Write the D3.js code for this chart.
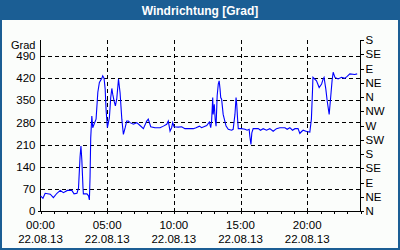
<!DOCTYPE html>
<html lang="de">
<head>
<meta charset="UTF-8">
<title>Windrichtung</title>
<script src="https://d3js.org/d3.v7.min.js"></script>
<style>
    body { margin: 0; background: #fff; overflow: hidden; }
    svg text { font-family: "Liberation Sans", Arial, sans-serif; }
    .grid line { stroke: #000; stroke-dasharray: 4,3; shape-rendering: crispEdges; }
    .axis line, .axis path { stroke: #000; shape-rendering: crispEdges; }
</style>
</head>
<body>
<svg id="chart" width="400" height="250"></svg>
<script>
    // minutes since 00:00 on 22.08.13 and wind direction in degrees
    var minutes = [0, 11, 21, 44, 58, 74, 89, 103, 121, 141, 151, 164, 171, 178, 182, 186, 191, 193, 209, 216,
        220, 223, 226, 231, 235, 241, 250, 258, 265, 276, 280, 286, 291, 295, 301, 310, 316, 321, 325, 331,
        337, 343, 351, 358, 366, 373, 381, 388, 395, 403, 418, 433, 448, 463, 478, 485, 496, 515, 538, 553,
        568, 575, 583, 590, 595, 601, 620, 635, 650, 688, 700, 715, 725, 748, 760, 766, 770, 775, 777, 782,
        786, 790, 795, 800, 804, 808, 811, 815, 822, 835, 845, 860, 867, 875, 880, 883, 887, 890, 905, 920,
        930, 939, 942, 947, 951, 957, 980, 990, 1002, 1017, 1032, 1047, 1062, 1077, 1100, 1110, 1122, 1134, 1145, 1159,
        1167, 1175, 1182, 1197, 1212, 1219, 1224, 1226, 1242, 1254, 1265, 1272, 1276, 1284, 1290, 1299, 1305, 1312, 1317, 1325,
        1339, 1355, 1369, 1380, 1392, 1414, 1425];
    var degrees = [48, 40, 56, 53, 42, 56, 65, 58, 65, 65, 54, 56, 72, 171, 205, 162, 77, 54, 54, 48,
        35, 109, 231, 300, 263, 274, 290, 375, 406, 419, 427, 419, 385, 321, 263, 295, 358, 387, 369, 348,
        332, 353, 417, 374, 290, 242, 263, 284, 284, 279, 274, 279, 270, 260, 284, 290, 266, 263, 263, 268,
        274, 284, 252, 263, 279, 266, 265, 266, 260, 260, 263, 268, 263, 270, 281, 263, 284, 358, 305, 337,
        290, 268, 364, 401, 411, 385, 358, 353, 305, 268, 258, 255, 258, 305, 358, 337, 290, 260, 260, 258,
        255, 258, 236, 210, 247, 260, 260, 255, 260, 255, 260, 252, 260, 263, 263, 258, 263, 255, 260, 260,
        245, 251, 255, 251, 249, 290, 380, 422, 411, 390, 401, 417, 422, 385, 348, 305, 353, 411, 438, 422,
        417, 422, 419, 425, 433, 431, 433];

    var leftTicks = [0, 70, 140, 210, 280, 350, 420, 490];
    var compassTicks = [0, 45, 90, 135, 180, 225, 270, 315, 360, 405, 450, 495, 540];
    var compassNames = ["N", "NE", "E", "SE", "S", "SW", "W", "NW", "N", "NE", "E", "SE", "S"];
    var hourLabels = [0, 5, 10, 15, 20];
    var dateLabel = "22.08.13";

    var svg = d3.select("#chart");
    var W = 400, H = 250;
    var plot = { left: 40.5, right: 360.5, top: 40, bottom: 211 };

    // frame + title bar
    svg.append("rect").attr("width", W).attr("height", H).attr("fill", "#1b5e94");
    svg.append("rect").attr("x", 2).attr("y", 20).attr("width", W - 4).attr("height", H - 22)
        .attr("fill", "#fbfdfb");
    svg.append("text").attr("x", W / 2).attr("y", 14.5).attr("text-anchor", "middle")
        .attr("fill", "#fff").style("font-weight", "bold").style("font-size", "12px")
        .text("Windrichtung [Grad]");

    var x = d3.scaleLinear().domain([0, 24 * 60]).range([plot.left, plot.right]);
    var y = d3.scaleLinear().domain([0, 540]).range([plot.bottom, plot.top]);

    // grid
    var grid = svg.append("g").attr("class", "grid");
    grid.selectAll(".h").data(leftTicks.filter(d => d > 0)).join("line")
        .attr("x1", plot.left).attr("x2", plot.right)
        .attr("y1", d => Math.round(y(d)) + 0.5).attr("y2", d => Math.round(y(d)) + 0.5);
    grid.selectAll(".v").data(hourLabels.filter(d => d > 0)).join("line")
        .attr("x1", d => Math.round(x(d * 60)) + 0.5).attr("x2", d => Math.round(x(d * 60)) + 0.5)
        .attr("y1", plot.top).attr("y2", plot.bottom);

    // left axis
    var yAxis = d3.axisLeft(y).tickValues(leftTicks).tickSize(0).tickPadding(5);
    var gl = svg.append("g").attr("class", "axis").attr("transform", "translate(" + plot.left + ",0)").call(yAxis);
    gl.select(".domain").remove();
    gl.selectAll("text").style("font-size", "11.5px").attr("fill", "#000");
    svg.append("line").attr("class", "axis").attr("stroke", "#000")
        .attr("x1", plot.left).attr("x2", plot.left).attr("y1", plot.top).attr("y2", plot.bottom);
    svg.append("text").attr("x", 35.5).attr("y", 48.5).attr("text-anchor", "end")
        .style("font-size", "11px").text("Grad");

    // right compass axis
    var yc = d3.scaleLinear().domain([0, 540]).range([plot.bottom, plot.top]);
    var rAxis = d3.axisRight(yc).tickValues(compassTicks).tickSize(3).tickPadding(2)
        .tickFormat((d, i) => compassNames[i]);
    var gr = svg.append("g").attr("class", "axis").attr("transform", "translate(" + plot.right + ",0)").call(rAxis);
    gr.select(".domain").remove();
    gr.selectAll("text").style("font-size", "11.5px").attr("fill", "#000");
    svg.append("line").attr("stroke", "#000").style("shape-rendering", "crispEdges")
        .attr("x1", plot.right).attr("x2", plot.right).attr("y1", plot.top).attr("y2", plot.bottom);

    // bottom axis with hourly minor ticks
    var xAxis = d3.axisBottom(x).tickValues(d3.range(0, 24 * 60 + 1, 60)).tickSize(3).tickFormat("");
    var gb = svg.append("g").attr("class", "axis").attr("transform", "translate(0," + plot.bottom + ")").call(xAxis);
    gb.select(".domain").remove();
    svg.append("line").attr("stroke", "#000").style("shape-rendering", "crispEdges")
        .attr("x1", plot.left - 3).attr("x2", plot.right + 3).attr("y1", plot.bottom).attr("y2", plot.bottom);

    var lbl = svg.append("g").selectAll("g").data(hourLabels).join("g")
        .attr("transform", d => "translate(" + x(d * 60) + ",0)");
    lbl.append("text").attr("y", 228.5).attr("text-anchor", "middle").style("font-size", "11.5px")
        .text(d => d3.format("02")(d) + ":00");
    lbl.append("text").attr("y", 243).attr("text-anchor", "middle").style("font-size", "11.5px")
        .text(dateLabel);

    // data line
    var line = d3.line().x((d, i) => x(minutes[i])).y(d => y(d));
    svg.append("path").datum(degrees).attr("d", line)
        .attr("fill", "none").attr("stroke", "#0000ff").attr("stroke-width", 1.1);
</script>
</body>
</html>
